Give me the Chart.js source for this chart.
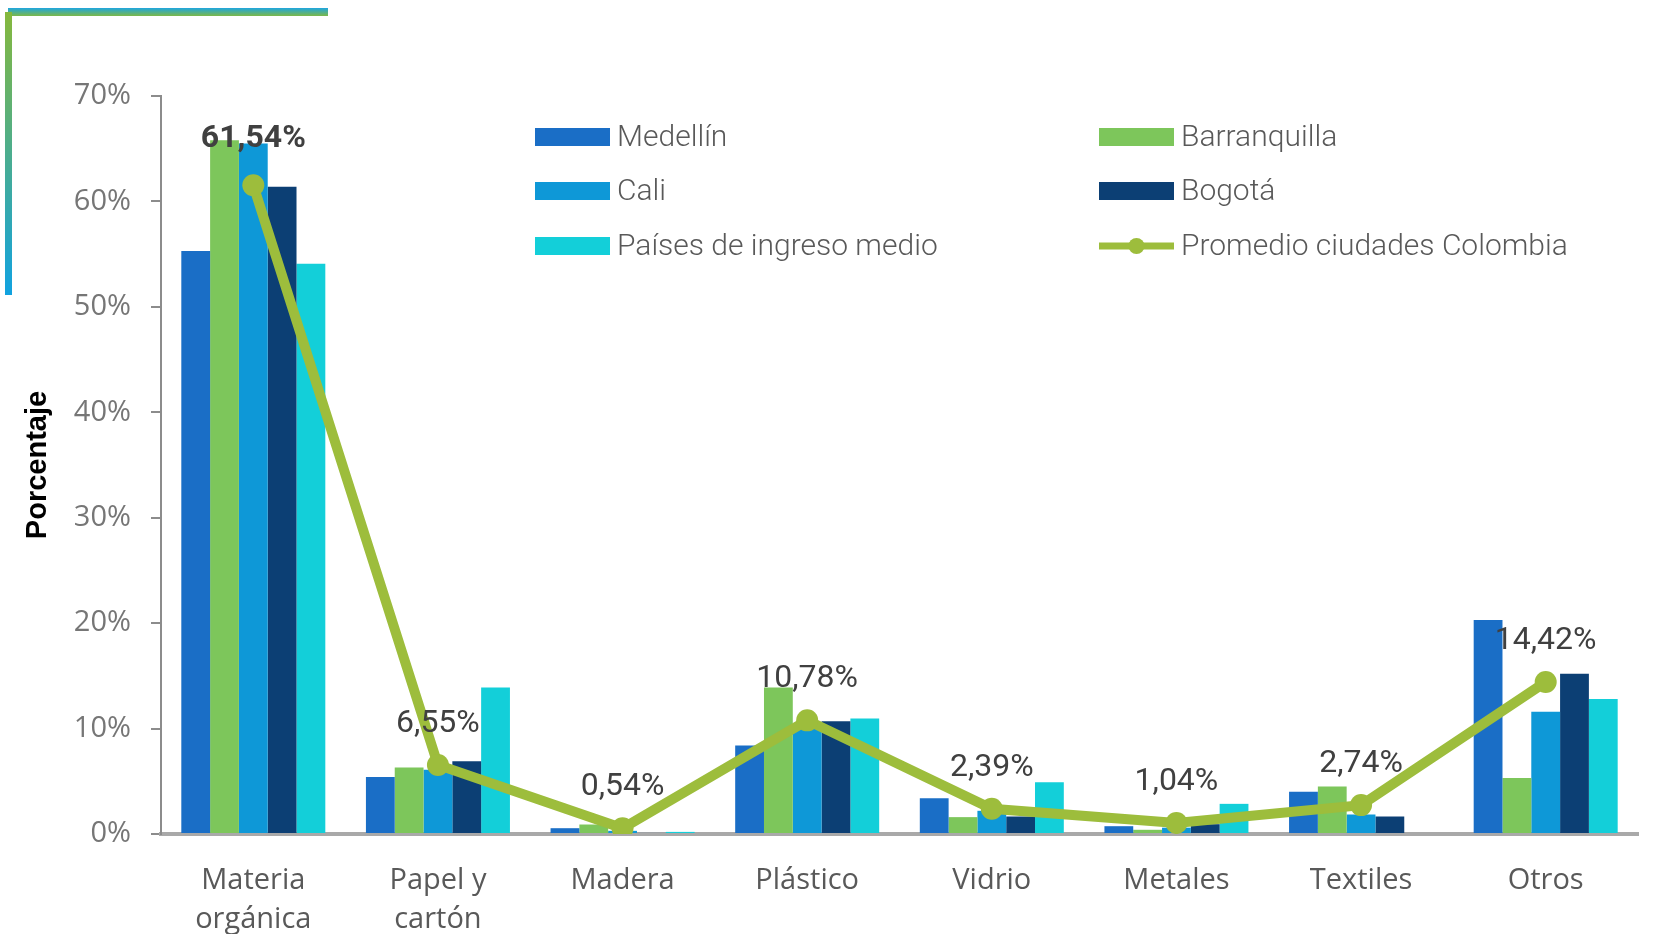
<!DOCTYPE html>
<html>
<head>
<meta charset="utf-8">
<script src="https://cdn.jsdelivr.net/npm/chart.js@4.4.1/dist/chart.umd.min.js"></script>
<style>
  html, body { margin: 0; padding: 0; background: #ffffff; }
  #wrap { position: relative; width: 1669px; height: 934px; overflow: hidden; }
  #c { position: absolute; left: 0; top: 0; }
  .barTop { position: absolute; left: 8px; top: 8px; width: 320px; height: 8px;
    background: linear-gradient(to bottom, #1fa6df, #7cb848); }
  .barLeft { position: absolute; left: 5px; top: 12px; width: 7px; height: 283px;
    background: linear-gradient(to bottom, #86b83c, #11a2e0); }
</style>
</head>
<body>
<div id="wrap">
  <canvas id="c" width="1669" height="934"></canvas>
  <div class="barTop"></div>
  <div class="barLeft"></div>
</div>
<script>
const categories = [["Materia","orgánica"], ["Papel y","cartón"], "Madera", "Plástico", "Vidrio", "Metales", "Textiles", "Otros"];
const medellin     = [55.3, 5.4, 0.55, 8.4, 3.4, 0.74, 4.0, 20.3];
const barranquilla = [65.8, 6.3, 0.9, 13.9, 1.6, 0.4, 4.5, 5.3];
const cali         = [65.5, 6.1, 0.3, 10.3, 2.2, 0.6, 1.85, 11.6];
const bogota       = [61.4, 6.9, 0.1, 10.7, 1.66, 0.93, 1.66, 15.2];
const paisesMedio  = [54.1, 13.9, 0.2, 10.95, 4.9, 2.86, 0, 12.8];
const promedio     = [61.54, 6.55, 0.54, 10.78, 2.39, 1.04, 2.74, 14.42];
const yTicks       = [0, 10, 20, 30, 40, 50, 60, 70];

const seriesNames = ["Medellín", "Barranquilla", "Cali", "Bogotá", "Países de ingreso medio", "Promedio ciudades Colombia"];
const colors = ["#1a6ec6", "#7dc65b", "#0e98d7", "#0c3f74", "#13cfd9", "#9dbd3c"];

function fmt(v) { return v.toFixed(2).replace('.', ',') + '%'; }

const labelPlugin = {
  id: 'pointLabels',
  afterDatasetsDraw(chart) {
    const ctx = chart.ctx;
    const idx = chart.data.datasets.length - 1;
    const meta = chart.getDatasetMeta(idx);
    ctx.save();
    ctx.fillStyle = '#404040';
    ctx.textAlign = 'center';
    ctx.textBaseline = 'alphabetic';
    meta.data.forEach((pt, i) => {
      ctx.font = (i === 0 ? 'bold ' : '') + '32px Roboto, "Liberation Sans", sans-serif';
      ctx.fillText(fmt(promedio[i]), pt.x, pt.y - (i === 0 ? 38 : 33));
    });
    ctx.restore();
  }
};

const legendPlugin = {
  id: 'gridLegend',
  afterDraw(chart) {
    const ctx = chart.ctx;
    const colX = [535, 1099];
    const rowY = [137, 191, 246];
    ctx.save();
    ctx.font = '300 30px Roboto, "Liberation Sans", sans-serif';
    ctx.textBaseline = 'middle';
    ctx.textAlign = 'left';
    seriesNames.forEach((name, s) => {
      const x = colX[s % 2];
      const y = rowY[Math.floor(s / 2)];
      if (s === 5) {
        ctx.strokeStyle = colors[s];
        ctx.lineWidth = 7;
        ctx.beginPath();
        ctx.moveTo(x, y);
        ctx.lineTo(x + 75, y);
        ctx.stroke();
        ctx.fillStyle = colors[s];
        ctx.beginPath();
        ctx.arc(x + 37.5, y, 8, 0, Math.PI * 2);
        ctx.fill();
      } else {
        ctx.fillStyle = colors[s];
        ctx.fillRect(x, y - 9, 75, 18);
      }
      ctx.fillStyle = '#595959';
      ctx.fillText(name, x + 82, y + 1);
    });
    ctx.restore();
  }
};

const barData = [medellin, barranquilla, cali, bogota, paisesMedio];
const datasets = barData.map((d, i) => ({
  type: 'bar',
  label: seriesNames[i],
  data: d,
  backgroundColor: colors[i],
  borderWidth: 0,
  order: 2,
  categoryPercentage: 0.78,
  barPercentage: 1.0
}));
datasets.push({
  type: 'line',
  label: seriesNames[5],
  data: promedio,
  borderColor: colors[5],
  backgroundColor: colors[5],
  borderWidth: 10,
  pointRadius: 11,
  pointHoverRadius: 11,
  pointBackgroundColor: colors[5],
  pointBorderWidth: 0,
  tension: 0,
  order: 1
});

new Chart(document.getElementById('c'), {
  data: { labels: categories, datasets },
  plugins: [labelPlugin, legendPlugin],
  options: {
    responsive: false,
    devicePixelRatio: 1,
    animation: false,
    layout: { padding: { left: 0, top: 96, right: 31, bottom: 0 } },
    plugins: { legend: { display: false }, tooltip: { enabled: false } },
    scales: {
      x: {
        grid: { display: false, drawTicks: false },
        border: { display: true, color: '#a9a9a9', width: 4 },
        ticks: {
          color: '#595959',
          font: { family: '"Open Sans", sans-serif', size: 29, lineHeight: 1.32 },
          padding: 28,
          maxRotation: 0
        },
        afterFit(scale) { scale.height = 100; }
      },
      y: {
        min: 0, max: 70,
        afterBuildTicks(scale) { scale.ticks = yTicks.map(v => ({ value: v })); },
        grid: { drawOnChartArea: false, drawTicks: true, tickLength: 10, color: '#8c8c8c', lineWidth: 2 },
        border: { display: true, color: '#8c8c8c', width: 2 },
        ticks: {
          color: '#767676',
          font: { family: '"Open Sans", sans-serif', size: 29 },
          padding: 20,
          callback: v => v + '%'
        },
        title: {
          display: true,
          text: 'Porcentaje',
          color: '#000000',
          font: { family: '"Liberation Sans", Arial, sans-serif', size: 29, weight: 'bold' },
          padding: { top: 21, bottom: 0 }
        },
        afterFit(scale) { scale.width = 161; }
      }
    }
  }
});
</script>
</body>
</html>
